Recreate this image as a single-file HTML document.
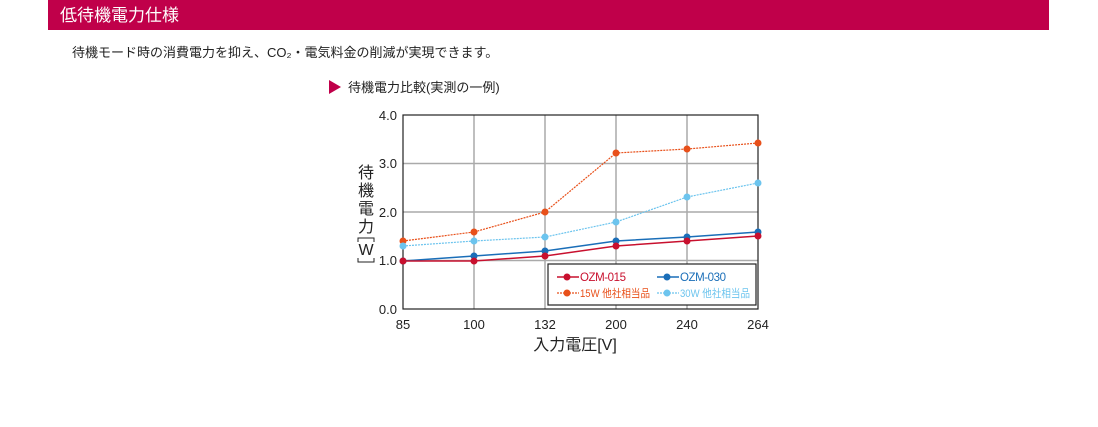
<!DOCTYPE html>
<html><head><meta charset="utf-8"><style>
body{margin:0;width:1098px;height:427px;background:#fff;font-family:"Liberation Sans","Noto Sans CJK JP",sans-serif;position:relative;overflow:hidden}
.bar{position:absolute;left:48px;top:0;width:1001px;height:30px;background:#c0004a;color:#fff;font-size:17px;line-height:32px;padding-left:12px;box-sizing:border-box}
.t{position:absolute;left:72px;top:42px;font-size:13px;color:#222}
</style></head><body>
<div class="bar">低待機電力仕様</div>
<div class="t">待機モード時の消費電力を抑え、CO₂・電気料金の削減が実現できます。</div>
<svg width="1098" height="427" style="position:absolute;left:0;top:0" font-family="Liberation Sans, Noto Sans CJK JP, sans-serif">
<polygon points="329,80 341,87 329,94" fill="#c0004a"/>
<text x="348" y="92" font-size="13" fill="#222">待機電力比較(実測の一例)</text>
<g stroke="#aaa" stroke-width="1.5">
<line x1="474" y1="115" x2="474" y2="309"/><line x1="545" y1="115" x2="545" y2="309"/><line x1="616" y1="115" x2="616" y2="309"/><line x1="687" y1="115" x2="687" y2="309"/>
<line x1="403" y1="163.5" x2="758" y2="163.5"/><line x1="403" y1="212" x2="758" y2="212"/><line x1="403" y1="260.5" x2="758" y2="260.5"/>
</g>
<rect x="403" y="115" width="355" height="194" fill="none" stroke="#222" stroke-width="1.2"/>
<g font-size="13" fill="#222" text-anchor="end">
<text x="397" y="120">4.0</text><text x="397" y="168">3.0</text><text x="397" y="217">2.0</text><text x="397" y="265">1.0</text><text x="397" y="314">0.0</text>
</g>
<g font-size="13" fill="#222" text-anchor="middle">
<text x="403" y="329">85</text><text x="474" y="329">100</text><text x="545" y="329">132</text><text x="616" y="329">200</text><text x="687" y="329">240</text><text x="758" y="329">264</text>
<text x="575" y="350" font-size="16">入力電圧[V]</text>
</g>
<g font-size="16" fill="#222" text-anchor="middle">
<text x="366" y="178">待</text><text x="366" y="196">機</text><text x="366" y="214">電</text><text x="366" y="232">力</text>
<text x="366" y="255">W</text>
</g>
<path d="M358,242 V238 H374 V242 M358,258 V262 H374 V258" fill="none" stroke="#222" stroke-width="1"/>
<polyline points="403,241 474,232 545,212 616,153 687,149 758,143" fill="none" stroke="#e8501a" stroke-width="1.2" stroke-dasharray="2,1"/>
<polyline points="403,246 474,241 545,237 616,222 687,197 758,183" fill="none" stroke="#6cc4ee" stroke-width="1.2" stroke-dasharray="2,1"/>
<polyline points="403,261 474,256 545,251 616,241 687,237 758,232" fill="none" stroke="#1a6eb8" stroke-width="1.5"/>
<polyline points="403,261 474,261 545,256 616,246 687,241 758,236" fill="none" stroke="#c8102e" stroke-width="1.5"/>
<g fill="#e8501a"><circle cx="403" cy="241" r="3.5"/><circle cx="474" cy="232" r="3.5"/><circle cx="545" cy="212" r="3.5"/><circle cx="616" cy="153" r="3.5"/><circle cx="687" cy="149" r="3.5"/><circle cx="758" cy="143" r="3.5"/></g>
<g fill="#6cc4ee"><circle cx="403" cy="246" r="3.5"/><circle cx="474" cy="241" r="3.5"/><circle cx="545" cy="237" r="3.5"/><circle cx="616" cy="222" r="3.5"/><circle cx="687" cy="197" r="3.5"/><circle cx="758" cy="183" r="3.5"/></g>
<g fill="#1a6eb8"><circle cx="403" cy="261" r="3.5"/><circle cx="474" cy="256" r="3.5"/><circle cx="545" cy="251" r="3.5"/><circle cx="616" cy="241" r="3.5"/><circle cx="687" cy="237" r="3.5"/><circle cx="758" cy="232" r="3.5"/></g>
<g fill="#c8102e"><circle cx="403" cy="261" r="3.5"/><circle cx="474" cy="261" r="3.5"/><circle cx="545" cy="256" r="3.5"/><circle cx="616" cy="246" r="3.5"/><circle cx="687" cy="241" r="3.5"/><circle cx="758" cy="236" r="3.5"/></g>
<rect x="548" y="264" width="208" height="41" fill="#fff" stroke="#222" stroke-width="1.2"/>
<line x1="557" y1="277" x2="579" y2="277" stroke="#c8102e" stroke-width="1.5"/><circle cx="567" cy="277" r="3.5" fill="#c8102e"/>
<text x="580" y="281" font-size="11.5" fill="#c8102e" textLength="46">OZM-015</text>
<line x1="657" y1="277" x2="679" y2="277" stroke="#1a6eb8" stroke-width="1.5"/><circle cx="667" cy="277" r="3.5" fill="#1a6eb8"/>
<text x="680" y="281" font-size="11.5" fill="#1a6eb8" textLength="46">OZM-030</text>
<line x1="557" y1="293" x2="579" y2="293" stroke="#e8501a" stroke-width="1.2" stroke-dasharray="2,1"/><circle cx="567" cy="293" r="3.5" fill="#e8501a"/>
<text x="580" y="297" font-size="11" fill="#e8501a" textLength="70" lengthAdjust="spacingAndGlyphs">15W 他社相当品</text>
<line x1="657" y1="293" x2="679" y2="293" stroke="#6cc4ee" stroke-width="1.2" stroke-dasharray="2,1"/><circle cx="667" cy="293" r="3.5" fill="#6cc4ee"/>
<text x="680" y="297" font-size="11" fill="#6cc4ee" textLength="70" lengthAdjust="spacingAndGlyphs">30W 他社相当品</text>
</svg>
</body></html>
